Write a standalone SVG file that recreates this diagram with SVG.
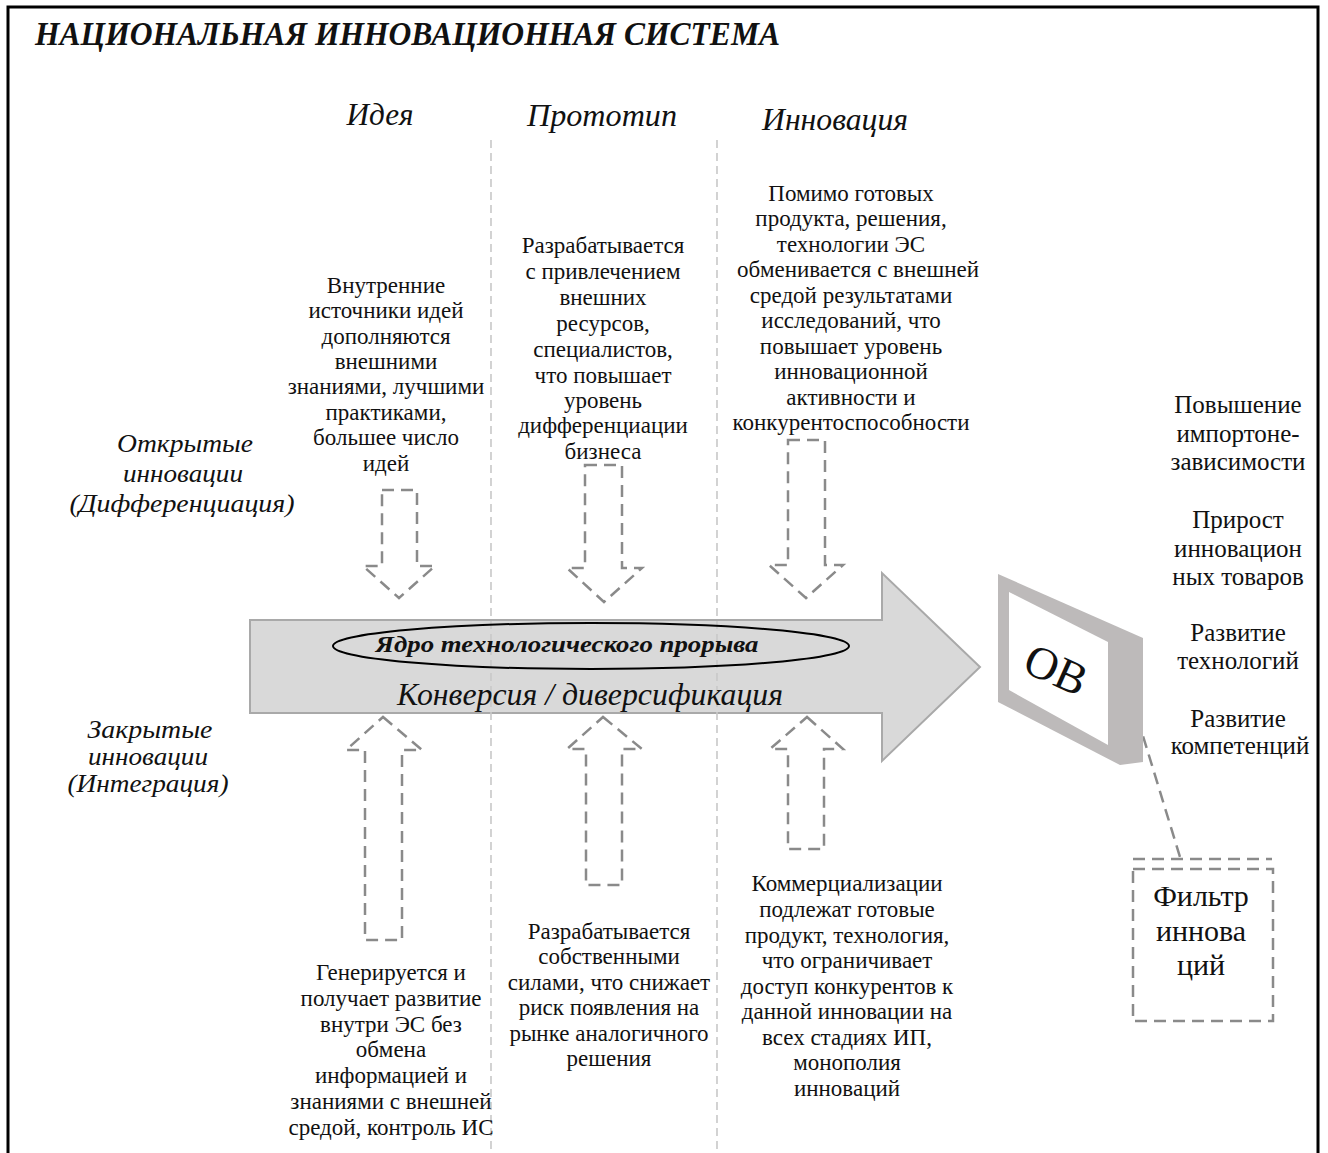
<svg xmlns="http://www.w3.org/2000/svg" width="1328" height="1153" viewBox="0 0 1328 1153">
  <style>
    text { font-family: "Liberation Serif", "DejaVu Serif", serif; fill: #111; }
    .title { font-size: 34px; font-weight: bold; font-style: italic; }
    .head { font-size: 31px; font-style: italic; text-anchor: middle; }
    .side { font-size: 26px; font-style: italic; text-anchor: middle; }
    .body { font-size: 23px; text-anchor: middle; }
    .res { font-size: 25px; text-anchor: middle; }
    .sep { stroke: #c8c8c8; stroke-width: 1.6; stroke-dasharray: 8 5; fill: none; }
    .flow { fill: none; stroke: #8a8a8a; stroke-width: 2.5; stroke-dasharray: 12 7; stroke-linejoin: miter; }
  </style>

  <!-- outer frame -->
  <rect x="8" y="7" width="1310" height="1160" fill="#fff" stroke="#000" stroke-width="3"/>

  <text class="title" x="35" y="45" textLength="745" lengthAdjust="spacingAndGlyphs">НАЦИОНАЛЬНАЯ ИННОВАЦИОННАЯ СИСТЕМА</text>

  <!-- stage headings -->
  <g id="stages">
    <text class="head" x="380" y="125" textLength="67" lengthAdjust="spacingAndGlyphs">Идея</text>
    <text class="head" x="602" y="126" textLength="150" lengthAdjust="spacingAndGlyphs">Прототип</text>
    <text class="head" x="835" y="130" textLength="146" lengthAdjust="spacingAndGlyphs">Инновация</text>
  </g>

  <!-- main process arrow -->
  <g id="core">
    <polygon points="250,620 882,620 882,573 980,667 882,761 882,713 250,713" fill="#d9d9d9" stroke="#a9a9a9" stroke-width="2"/>
  </g>

  <!-- stage separators -->
  <line class="sep" x1="491" y1="140" x2="491" y2="1153"/>
  <line class="sep" x1="717" y1="140" x2="717" y2="1153"/>

  <g id="core-labels">
    <ellipse cx="591" cy="646" rx="258" ry="23" fill="none" stroke="#000" stroke-width="2"/>
    <text x="567" y="652" font-size="23" font-weight="bold" font-style="italic" text-anchor="middle" textLength="383" lengthAdjust="spacingAndGlyphs">Ядро технологического прорыва</text>
    <text x="590" y="705" font-size="31" font-style="italic" text-anchor="middle" textLength="386" lengthAdjust="spacingAndGlyphs">Конверсия / диверсификация</text>
  </g>

  <!-- dashed block arrows -->
  <g id="connectors">
    <polygon class="flow" points="382,490 417,490 417,566 435,566 399,598 363,566 382,566"/>
    <polygon class="flow" points="585,465 622,465 622,568 642,568 604,602 567,568 585,568"/>
    <polygon class="flow" points="788,440 825,440 825,565 843,565 806,598 769,565 788,565"/>
    <polygon class="flow" points="383,717 422,750 402,750 402,940 365,940 365,750 346,750"/>
    <polygon class="flow" points="603,717 642,749 622,749 622,885 586,885 586,749 567,749"/>
    <polygon class="flow" points="807,717 843,749 824,749 824,849 788,849 788,749 770,749"/>
    <line class="flow" x1="1132" y1="700" x2="1180" y2="857" stroke-dasharray="10 6"/>
  </g>

  <!-- innovation modes -->
  <g id="open-label">
    <text class="side" x="185" y="452" textLength="136" lengthAdjust="spacingAndGlyphs">Открытые</text>
    <text class="side" x="183" y="482" textLength="120" lengthAdjust="spacingAndGlyphs">инновации</text>
    <text class="side" x="182" y="512" textLength="225" lengthAdjust="spacingAndGlyphs">(Дифференциация)</text>
  </g>
  <g id="closed-label">
    <text class="side" x="150" y="738" textLength="125" lengthAdjust="spacingAndGlyphs">Закрытые</text>
    <text class="side" x="148" y="765" textLength="120" lengthAdjust="spacingAndGlyphs">инновации</text>
    <text class="side" x="148" y="792" textLength="161" lengthAdjust="spacingAndGlyphs">(Интеграция)</text>
  </g>

  <!-- open innovation notes -->
  <g id="idea-open">
    <text class="body" x="386" y="293">Внутренние</text>
    <text class="body" x="386" y="318">источники идей</text>
    <text class="body" x="386" y="344">дополняются</text>
    <text class="body" x="386" y="369">внешними</text>
    <text class="body" x="386" y="394">знаниями, лучшими</text>
    <text class="body" x="386" y="420">практиками,</text>
    <text class="body" x="386" y="445">большее число</text>
    <text class="body" x="386" y="471">идей</text>
  </g>
  <g id="prototype-open">
    <text class="body" x="603" y="253">Разрабатывается</text>
    <text class="body" x="603" y="279">с привлечением</text>
    <text class="body" x="603" y="305">внешних</text>
    <text class="body" x="603" y="331">ресурсов,</text>
    <text class="body" x="603" y="357">специалистов,</text>
    <text class="body" x="603" y="383">что повышает</text>
    <text class="body" x="603" y="408">уровень</text>
    <text class="body" x="603" y="433">дифференциации</text>
    <text class="body" x="603" y="459">бизнеса</text>
  </g>
  <g id="innovation-open">
    <text class="body" x="851" y="201">Помимо готовых</text>
    <text class="body" x="851" y="226">продукта, решения,</text>
    <text class="body" x="851" y="252">технологии ЭС</text>
    <text class="body" x="858" y="277">обменивается с внешней</text>
    <text class="body" x="851" y="303">средой результатами</text>
    <text class="body" x="851" y="328">исследований, что</text>
    <text class="body" x="851" y="354">повышает уровень</text>
    <text class="body" x="851" y="379">инновационной</text>
    <text class="body" x="851" y="405">активности и</text>
    <text class="body" x="851" y="430">конкурентоспособности</text>
  </g>

  <!-- closed innovation notes -->
  <g id="idea-closed">
    <text class="body" x="391" y="980">Генерируется и</text>
    <text class="body" x="391" y="1006">получает развитие</text>
    <text class="body" x="391" y="1032">внутри ЭС без</text>
    <text class="body" x="391" y="1057">обмена</text>
    <text class="body" x="391" y="1083">информацией и</text>
    <text class="body" x="391" y="1109">знаниями с внешней</text>
    <text class="body" x="391" y="1135">средой, контроль ИС</text>
  </g>
  <g id="prototype-closed">
    <text class="body" x="609" y="939">Разрабатывается</text>
    <text class="body" x="609" y="964">собственными</text>
    <text class="body" x="609" y="990">силами, что снижает</text>
    <text class="body" x="609" y="1015">риск появления на</text>
    <text class="body" x="609" y="1041">рынке аналогичного</text>
    <text class="body" x="609" y="1066">решения</text>
  </g>
  <g id="innovation-closed">
    <text class="body" x="847" y="891">Коммерциализации</text>
    <text class="body" x="847" y="917">подлежат готовые</text>
    <text class="body" x="847" y="943">продукт, технология,</text>
    <text class="body" x="847" y="968">что ограничивает</text>
    <text class="body" x="847" y="994">доступ конкурентов к</text>
    <text class="body" x="847" y="1019">данной инновации на</text>
    <text class="body" x="847" y="1045">всех стадиях ИП,</text>
    <text class="body" x="847" y="1070">монополия</text>
    <text class="body" x="847" y="1096">инноваций</text>
  </g>

  <!-- ОВ panel -->
  <g id="ov">
    <polygon points="998,574 1143,638 1143,762 1120,765 998,702" fill="#bdbaba"/>
    <polygon points="1009,592 1108,642 1108,745 1009,690" fill="#fff"/>
    <text x="1056" y="685" font-size="46" text-anchor="middle" transform="rotate(24 1056 670)">ОВ</text>
  </g>

  <!-- results -->
  <g id="results">
    <text class="res" x="1238" y="413">Повышение</text>
    <text class="res" x="1238" y="442">импортоне-</text>
    <text class="res" x="1238" y="470">зависимости</text>
    <text class="res" x="1238" y="528">Прирост</text>
    <text class="res" x="1238" y="557">инновацион</text>
    <text class="res" x="1238" y="585">ных товаров</text>
    <text class="res" x="1238" y="641">Развитие</text>
    <text class="res" x="1238" y="669">технологий</text>
    <text class="res" x="1238" y="727">Развитие</text>
    <text class="res" x="1240" y="754">компетенций</text>
  </g>

  <!-- innovation filter -->
  <g id="filter">
    <line class="flow" x1="1133" y1="859" x2="1272" y2="859" stroke-dasharray="10 6"/>
    <rect class="flow" x="1133" y="869" width="140" height="152" stroke-dasharray="10 6"/>
    <text x="1201" y="906" font-size="30" text-anchor="middle">Фильтр</text>
    <text x="1201" y="941" font-size="30" text-anchor="middle">иннова</text>
    <text x="1201" y="975" font-size="30" text-anchor="middle">ций</text>
  </g>
</svg>
